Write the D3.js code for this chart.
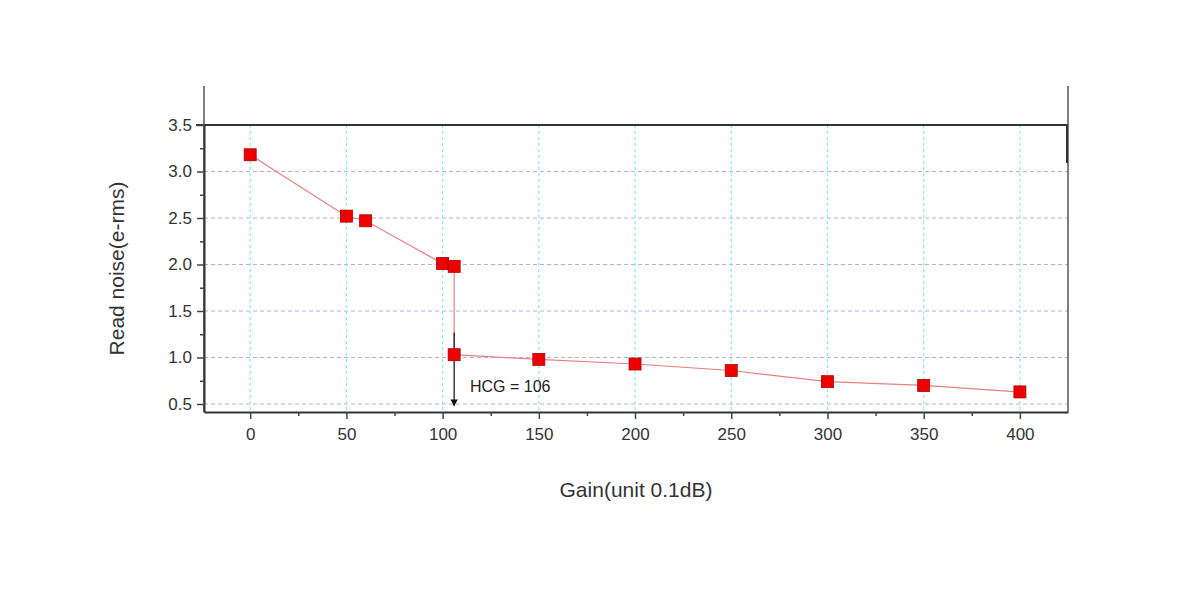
<!DOCTYPE html><html><head><meta charset="utf-8">
<script src="https://d3js.org/d3.v7.min.js"></script>
<style>body{margin:0;background:#fff}text{font-family:"Liberation Sans",Arial,sans-serif}</style></head><body>
<svg id="c" width="1200" height="600"></svg>
<script>
const gains=[0,50,60,100,106,106,150,200,250,300,350,400];
const noise=[3.18,2.52,2.47,2.01,1.98,1.03,0.98,0.93,0.86,0.74,0.70,0.63];
const xTicks=[0,50,100,150,200,250,300,350,400];
const yTicks=[0.5,1.0,1.5,2.0,2.5,3.0,3.5];
const svg=d3.select("#c");
const L=204,R=1068,T=125,B=412;
const x=d3.scaleLinear().domain([-24,425]).range([L,R]);
const y=d3.scaleLinear().domain([0.414,3.5]).range([B,T]);
const g=svg.append("g");
g.selectAll(".hg").data(yTicks.slice(0,6)).join("line").attr("x1",L).attr("x2",R).attr("y1",d=>y(d)).attr("y2",d=>y(d)).attr("stroke","#b0b0e4").attr("stroke-dasharray","4,3").attr("stroke-width",1);
g.selectAll(".vg").data(xTicks).join("line").attr("y1",T).attr("y2",B).attr("x1",d=>x(d)).attr("x2",d=>x(d)).attr("stroke","#8ee8f0").attr("stroke-dasharray","3,3").attr("stroke-width",1.2);
g.append("line").attr("x1",L-8).attr("x2",R).attr("y1",T).attr("y2",T).attr("stroke","#333").attr("stroke-width",2);
g.append("line").attr("x1",L).attr("x2",L).attr("y1",86).attr("y2",B).attr("stroke","#555").attr("stroke-width",1.5);
g.append("line").attr("x1",R).attr("x2",R).attr("y1",86).attr("y2",B).attr("stroke","#555").attr("stroke-width",1.5);
g.append("line").attr("x1",R-1).attr("x2",R-1).attr("y1",T).attr("y2",163).attr("stroke","#333").attr("stroke-width",2);
g.append("g").attr("class","ax").attr("transform",`translate(0,${B})`).call(d3.axisBottom(x).tickValues(xTicks).tickSize(7).tickPadding(9).tickSizeOuter(0));
g.append("g").attr("transform",`translate(0,${B})`).call(d3.axisBottom(x).tickValues(d3.range(25,400,50)).tickSize(4).tickFormat("")).select(".domain").remove();
g.append("g").attr("class","ax").attr("transform",`translate(${L},0)`).call(d3.axisLeft(y).tickValues(yTicks).tickFormat(d3.format(".1f")).tickSize(7).tickPadding(5).tickSizeOuter(0));
g.append("g").attr("transform",`translate(${L},0)`).call(d3.axisLeft(y).tickValues(d3.range(0.75,3.5,0.5)).tickSize(4).tickFormat("")).select(".domain").remove();
svg.selectAll(".ax").attr("font-size",17).attr("font-family","Liberation Sans, Arial, sans-serif");
svg.selectAll(".domain").attr("stroke","#333").attr("stroke-width",2);
svg.selectAll(".tick line").attr("stroke","#444").attr("stroke-width",1.5);
svg.selectAll(".tick text").attr("fill","#333");
g.append("path").datum(gains.map((d,i)=>[d,noise[i]])).attr("fill","none").attr("stroke","#e88080").attr("stroke-width",1.2).attr("d",d3.line().x(d=>x(d[0])).y(d=>y(d[1])));
svg.append("defs").append("marker").attr("id","ah").attr("viewBox","0 0 10 10").attr("refX",9).attr("refY",5).attr("markerWidth",6).attr("markerHeight",8).attr("orient","auto").append("path").attr("d","M0,0L10,5L0,10z").attr("fill","#111");
g.append("line").attr("x1",x(106)).attr("x2",x(106)).attr("y1",y(1.27)).attr("y2",y(0.48)).attr("stroke","#111").attr("stroke-width",1.2).attr("marker-end","url(#ah)");
g.selectAll(".pt").data(gains).join("rect").attr("x",d=>x(d)-6).attr("y",(d,i)=>y(noise[i])-6).attr("width",12).attr("height",12).attr("fill","#e00").attr("stroke","#a00").attr("stroke-width",0.8);
g.append("text").attr("x",470).attr("y",392).attr("font-size",16).attr("fill","#222").text("HCG = 106");
svg.append("text").attr("x",(L+R)/2).attr("y",497).attr("text-anchor","middle").attr("font-size",21).attr("fill","#333").text("Gain(unit 0.1dB)");
svg.append("text").attr("transform",`translate(124,${(T+B)/2}) rotate(-90)`).attr("text-anchor","middle").attr("font-size",21).attr("fill","#333").text("Read noise(e-rms)");
</script></body></html>
